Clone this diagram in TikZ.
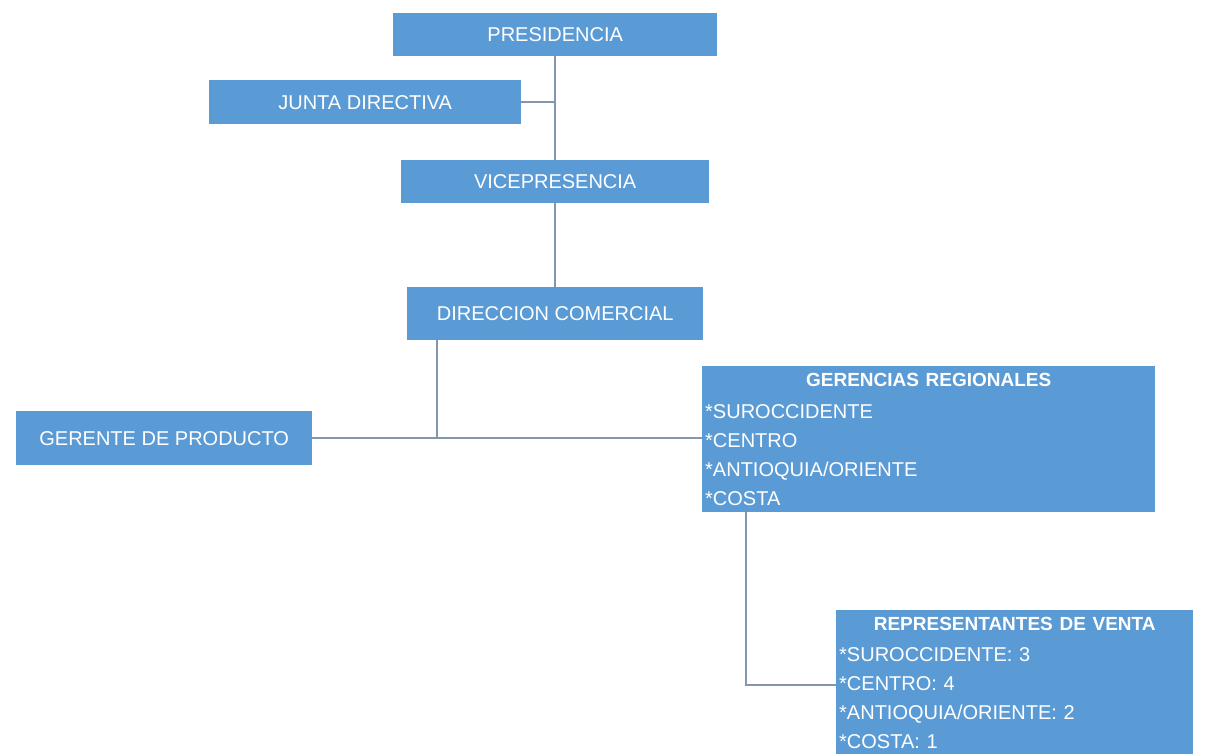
\documentclass[tikz,border=0pt]{standalone}
\usepackage{fontspec}
\setmainfont{Liberation Sans}
\definecolor{boxblue}{HTML}{5B9BD5}
\definecolor{linkgray}{HTML}{8496AB}
\begin{document}
\begin{tikzpicture}[x=1pt,y=-1pt,
  unit/.style={fill=boxblue, text=white, inner sep=0pt, anchor=north west,
    font=\fontsize{20}{22}\selectfont},
  listunit/.style={unit, inner xsep=3pt, align=left,
    font=\fontsize{20}{29}\selectfont},
  listhead/.style={},
  link/.style={draw=linkgray, line width=2pt}]
\useasboundingbox (0,0) rectangle (1207,753);
\fill[white] (0,0) rectangle (1207,753);
\clip (0,0) rectangle (1207,753);

% chain of command
\node[unit, minimum width=324, minimum height=43] (pres)  at (393,13)  {PRESIDENCIA};
\node[unit, minimum width=312, minimum height=44] (junta) at (209,80)  {JUNTA DIRECTIVA};
\node[unit, minimum width=308, minimum height=43] (vice)  at (401,160) {VICEPRESENCIA};
\node[unit, minimum width=296, minimum height=53] (dir)   at (407,287) {DIRECCION COMERCIAL};
\node[unit, minimum width=296, minimum height=54] (ger)   at (16,411)  {GERENTE DE PRODUCTO};

% regional units with their lists
\node[listunit, text width=447, minimum height=146] (reg) at (702,366)
  {{\centering\fontsize{19}{29}\selectfont\bfseries GERENCIAS REGIONALES\par}\vspace{3pt}
   *SUROCCIDENTE\par *CENTRO\par *ANTIOQUIA/ORIENTE\par *COSTA};
\node[listunit, text width=351, minimum height=146] (rep) at (836,610)
  {{\centering\fontsize{19}{29}\selectfont\bfseries REPRESENTANTES DE VENTA\par}\vspace{2pt}
   *SUROCCIDENTE: 3\par *CENTRO: 4\par *ANTIOQUIA/ORIENTE: 2\par *COSTA: 1};

% junction points
\coordinate (dj) at (437,438);
\coordinate (rj) at (746,685);

% connectors
\draw[link] (pres.south) -- (vice.north);
\draw[link] (junta.east) -- (junta.east -| pres.south);
\draw[link] (vice.south) -- (vice.south |- dir.north);
\draw[link] (dir.south -| dj) -- (dj);
\draw[link] (ger.east) -- (reg.west |- ger.east);
\draw[link] (reg.south -| rj) -- (rj) -- (rep.west |- rj);
\end{tikzpicture}
\end{document}
